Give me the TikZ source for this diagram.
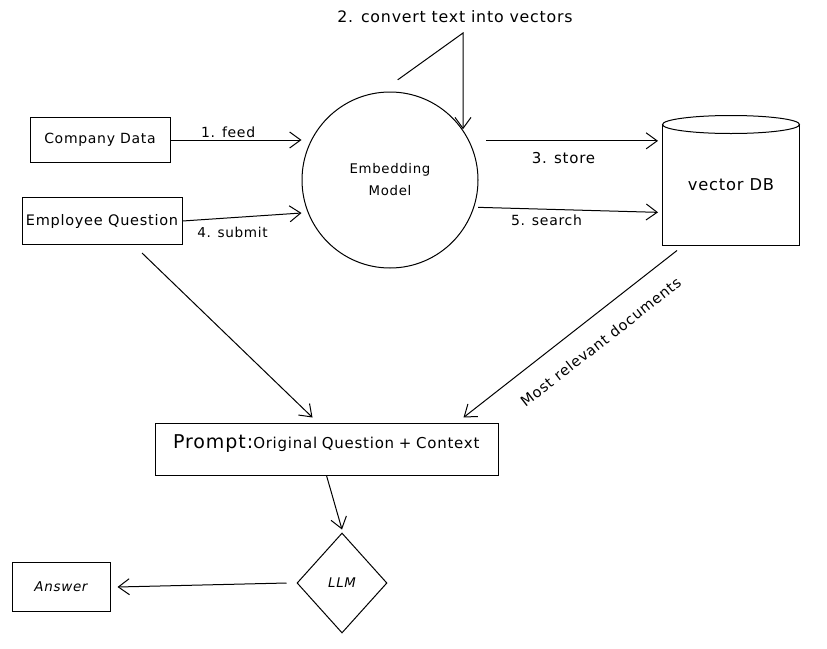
\documentclass[tikz,border=0pt]{standalone}
\usepackage{fontspec}
\setmainfont[LetterSpace=5]{DejaVu Sans}
\usetikzlibrary{arrows.meta,shapes.geometric}

\newcommand{\fs}[1]{\fontsize{#1}{#1}\selectfont}

\begin{document}
\begin{tikzpicture}[x=1pt,y=-1pt]
    \tikzstyle{every node}=[font=\fs{14}]
    \tikzstyle{box}=[rectangle, draw, line width=1pt, inner sep=0pt]
    \tikzstyle{arr}=[draw, line width=1pt, -{Straight Barb[length=11pt,width=16pt,line width=1pt]}]
    \tikzstyle{lbl}=[inner sep=2pt]

    \useasboundingbox (0,0) rectangle (827,648);

    \node[box, minimum width=140pt, minimum height=45pt] (cdata) at (100,140) {Company Data};
    \node[box, minimum width=160pt, minimum height=47pt, font=\fs{14.5}] (equest) at (102,221) {Employee Question};
    \node[circle, draw, line width=1pt, minimum size=176pt, align=center,
          font=\fontsize{13.3}{22}\selectfont] (embed) at (390,180) {Embedding\\Model};
    \node[box, minimum width=137pt, minimum height=120pt, font=\fs{16.3}] (db) at (731,185) {vector DB};
    \draw[line width=1pt, fill=white] (db.north) ellipse [x radius=68.5pt, y radius=9pt];
    \node[box, minimum width=343pt, text height=15pt, text depth=17pt, inner ysep=10pt,
          inner xsep=18pt, text width=307pt] (prompt) at (326.5,449)
          {{\fs{19}Prompt:}{\fs{15}Original Question + Context}};
    \node[diamond, draw, line width=1pt, minimum width=90pt, minimum height=100pt, inner sep=0pt,
          font=\fs{13.3}\itshape] (llm) at (342,583) {LLM};
    \node[box, minimum width=98pt, minimum height=49pt, font=\fs{13.5}\itshape]
          (answer) at (61,587) {Answer};

    \coordinate (looptop) at (463,33);
    \coordinate (storestart) at ([xshift=14pt,yshift=6pt]embed.22);
    \coordinate (searchstart) at ([xshift=4pt]embed.-18);

    \draw[arr] (cdata.east) -- (embed.west |- cdata.east) node[lbl, pos=0.44, above] {1. feed};
    \draw[arr] (equest.east) -- ([yshift=8pt]embed.west |- equest.east)
          node[lbl, pos=0.42, below=7pt, font=\fs{13.6}] {4. submit};
    \draw[arr] ([yshift=12pt]embed.85) -- (looptop) -- (looptop |- embed.35);
    \node[lbl, above=8pt, xshift=-8pt, font=\fs{15.8}] (looplbl) at (looptop) {2. convert text into vectors};
    \draw[arr] (storestart) -- ([xshift=-4pt]db.west |- storestart)
          node[lbl, pos=0.45, below=9pt, font=\fs{15}] {3. store};
    \draw[arr] (searchstart) -- ([xshift=-4pt,yshift=-5pt]db.west |- searchstart)
          node[lbl, pos=0.38, below=3pt] {5. search};
    \draw[arr] ([xshift=40pt,yshift=-8pt]equest.south) -- ([xshift=-14pt,yshift=5pt]prompt.north);
    \draw[arr] ([xshift=15pt,yshift=-5pt]db.south west) -- ([xshift=-35pt,yshift=5pt]prompt.north east)
          node[lbl, pos=0.43, sloped, below=17pt, font=\fs{14.5}] {Most relevant documents};
    \draw[arr] (prompt.south) -- ([yshift=3pt]llm.north);
    \draw[arr] ([xshift=-10pt]llm.west) -- ([xshift=7pt]answer.east);
\end{tikzpicture}
\end{document}
